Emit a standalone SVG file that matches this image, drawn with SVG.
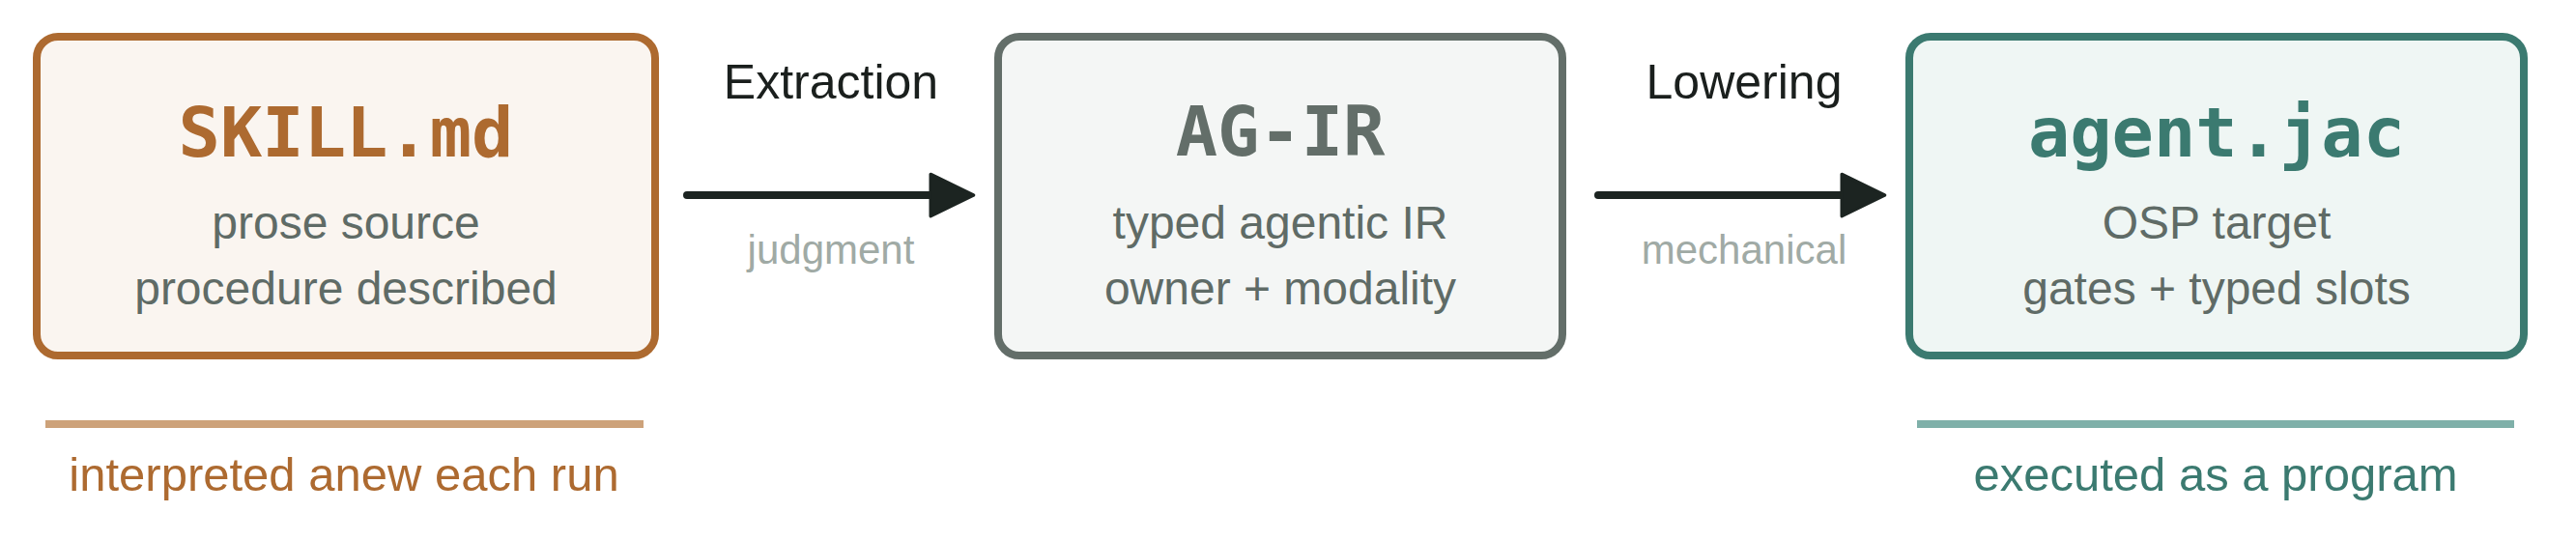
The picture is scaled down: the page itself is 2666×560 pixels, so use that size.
<svg xmlns="http://www.w3.org/2000/svg" width="2666" height="560" viewBox="0 0 2666 560">
<style>
.box{stroke-width:8}
.title{font-family:"DejaVu Sans Mono","Liberation Mono",monospace;font-weight:bold;font-size:72px;text-anchor:middle}
.sub{font-family:"Liberation Sans",Arial,sans-serif;font-size:48px;fill:#5f6b66;text-anchor:middle}
.lbl{font-family:"Liberation Sans",Arial,sans-serif;font-size:50px;fill:#1a1f1d;text-anchor:middle}
.note{font-family:"Liberation Sans",Arial,sans-serif;font-size:42px;fill:#a0aaa5;text-anchor:middle}
.foot{font-family:"Liberation Sans",Arial,sans-serif;font-size:49px;text-anchor:middle}
.edge{stroke:#1c2421;stroke-width:8;stroke-linecap:round;fill:none}
</style>
<defs>
<marker id="ah" markerUnits="userSpaceOnUse" markerWidth="50" markerHeight="50" refX="10" refY="20" orient="auto" viewBox="-2 -2 46 46">
<path d="M0,0 L41,20 L0,40 Z" fill="#1c2421" stroke="#1c2421" stroke-width="3" stroke-linejoin="round"/>
</marker>
</defs>
<rect width="2666" height="560" fill="#ffffff"/>
<g id="node-skill">
<rect class="box" x="38" y="38" width="640" height="330" rx="22" fill="#faf5f0" stroke="#ad6a30"/>
<text class="title" x="358" y="162" fill="#ad6a30">SKILL.md</text>
<text class="sub" x="358" y="247">prose source</text>
<text class="sub" x="358" y="315">procedure described</text>
</g>
<g id="node-agir">
<rect class="box" x="1033" y="38" width="584" height="330" rx="22" fill="#f4f6f5" stroke="#636e69"/>
<text class="title" x="1325" y="161" fill="#636e69">AG-IR</text>
<text class="sub" x="1325" y="247">typed agentic IR</text>
<text class="sub" x="1325" y="315">owner + modality</text>
</g>
<g id="node-agent">
<rect class="box" x="1976" y="38" width="636" height="330" rx="22" fill="#eff6f4" stroke="#3b7a70"/>
<text class="title" x="2294" y="162" fill="#3b7a70">agent.jac</text>
<text class="sub" x="2294" y="247">OSP target</text>
<text class="sub" x="2294" y="315">gates + typed slots</text>
</g>
<g id="connectors">
<line class="edge" x1="711" y1="202" x2="974" y2="202" marker-end="url(#ah)"/>
<line class="edge" x1="1654" y1="202" x2="1917" y2="202" marker-end="url(#ah)"/>
<text class="lbl" x="860" y="102">Extraction</text>
<text class="note" x="860" y="273">judgment</text>
<text class="lbl" x="1805" y="102">Lowering</text>
<text class="note" x="1805" y="273">mechanical</text>
</g>
<g id="footer-left">
<rect x="47" y="435" width="619" height="8" fill="#cda27a"/>
<text class="foot" x="356" y="508" fill="#ad6a30">interpreted anew each run</text>
</g>
<g id="footer-right">
<rect x="1984" y="435" width="618" height="8" fill="#7fb0a9"/>
<text class="foot" x="2293" y="508" fill="#3b7a70">executed as a program</text>
</g>
</svg>
